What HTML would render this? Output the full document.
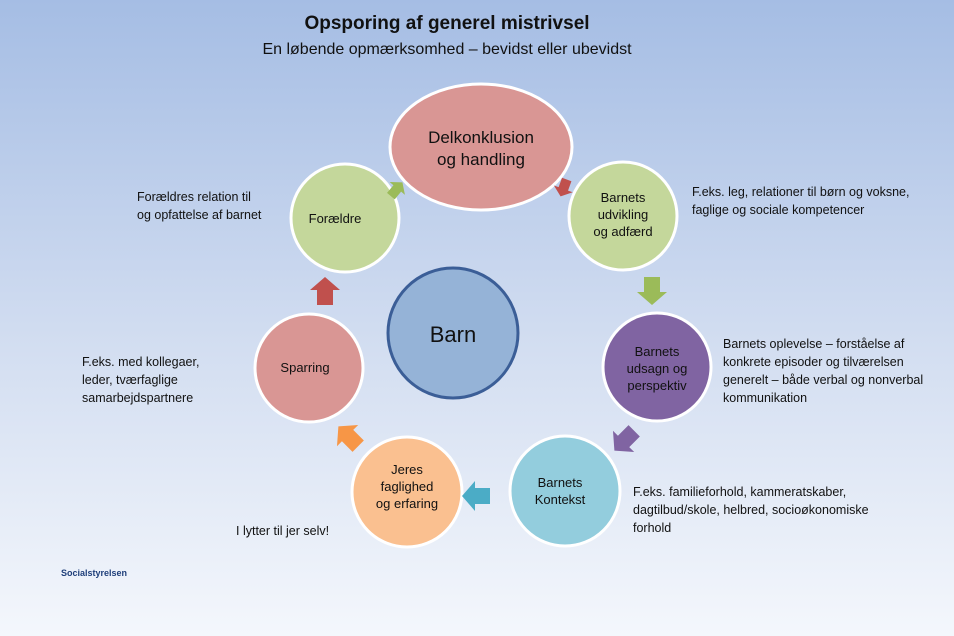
<!DOCTYPE html><html><head><meta charset="utf-8"><style>body{margin:0}svg{display:block}text{font-family:"Liberation Sans",sans-serif}</style></head><body>
<svg width="954" height="636" viewBox="0 0 954 636" xmlns="http://www.w3.org/2000/svg">
<defs><linearGradient id="bg" x1="0" y1="0" x2="0" y2="1"><stop offset="0" stop-color="#a5bde4"/><stop offset="0.55" stop-color="#d3def1"/><stop offset="1" stop-color="#f4f7fc"/></linearGradient></defs>
<rect width="954" height="636" fill="url(#bg)"/>
<text x="447" y="29" font-size="19" font-weight="bold" text-anchor="middle" fill="#111">Opsporing af generel mistrivsel</text>
<text x="447" y="54" font-size="16" text-anchor="middle" fill="#111">En løbende opmærksomhed – bevidst eller ubevidst</text>
<g stroke="#fff" stroke-width="3">
<ellipse cx="481" cy="147" rx="91" ry="63" fill="#d99694"/>
<circle cx="345" cy="218" r="54" fill="#c4d79b"/>
<circle cx="623" cy="216" r="54" fill="#c4d79b"/>
<circle cx="657" cy="367" r="54" fill="#8064a2"/>
<circle cx="565" cy="491" r="55" fill="#93cddd"/>
<circle cx="407" cy="492" r="55" fill="#fac090"/>
<circle cx="309" cy="368" r="54" fill="#d99694"/>
</g>
<circle cx="453" cy="333" r="65" fill="#95b3d7" stroke="#3b5e97" stroke-width="3"/>
<polygon points="-8,-5 2,-5 2,-10 10,0 2,10 2,5 -8,5" fill="#9bbb59" transform="translate(396,190) rotate(-50)"/>
<polygon points="-8,-5 2,-5 2,-10 10,0 2,10 2,5 -8,5" fill="#c0504d" transform="translate(564,187) rotate(110)"/>
<polygon points="-13,-8 2,-8 2,-15 15,0 2,15 2,8 -13,8" fill="#9bbb59" transform="translate(652,290) rotate(90)"/>
<polygon points="-13,-8 2,-8 2,-15 15,0 2,15 2,8 -13,8" fill="#8064a2" transform="translate(625,440) rotate(135)"/>
<polygon points="-13,-8 2,-8 2,-15 15,0 2,15 2,8 -13,8" fill="#4bacc6" transform="translate(477,496) rotate(180)"/>
<polygon points="-13,-8 2,-8 2,-15 15,0 2,15 2,8 -13,8" fill="#f79646" transform="translate(349,437) rotate(-135)"/>
<polygon points="-13,-8 2,-8 2,-15 15,0 2,15 2,8 -13,8" fill="#c0504d" transform="translate(325,292) rotate(-90)"/>
<g font-size="17" text-anchor="middle" fill="#111">
<text x="481" y="143">Delkonklusion</text><text x="481" y="165">og handling</text>
</g>
<text x="453" y="342" font-size="22" text-anchor="middle" fill="#111">Barn</text>
<g font-size="13" text-anchor="middle" fill="#111">
<text x="335" y="223">Forældre</text>
<text x="623" y="202">Barnets</text><text x="623" y="219">udvikling</text><text x="623" y="236">og adfærd</text>
<text x="657" y="356">Barnets</text><text x="657" y="373">udsagn og</text><text x="657" y="390">perspektiv</text>
<text x="560" y="487">Barnets</text><text x="560" y="504">Kontekst</text>
<text x="407" y="474">Jeres</text><text x="407" y="491">faglighed</text><text x="407" y="508">og erfaring</text>
<text x="305" y="372">Sparring</text>
</g>
<g font-size="12.5" fill="#111">
<text x="137" y="201">Forældres relation til</text><text x="137" y="219">og opfattelse af barnet</text>
<text x="692" y="196">F.eks. leg, relationer til børn og voksne,</text><text x="692" y="214">faglige og sociale kompetencer</text>
<text x="723" y="348">Barnets oplevelse – forståelse af</text><text x="723" y="366">konkrete episoder og tilværelsen</text><text x="723" y="384">generelt – både verbal og nonverbal</text><text x="723" y="402">kommunikation</text>
<text x="82" y="366">F.eks. med kollegaer,</text><text x="82" y="384">leder, tværfaglige</text><text x="82" y="402">samarbejdspartnere</text>
<text x="633" y="496">F.eks. familieforhold, kammeratskaber,</text><text x="633" y="514">dagtilbud/skole, helbred, socioøkonomiske</text><text x="633" y="532">forhold</text>
<text x="236" y="535">I lytter til jer selv!</text>
</g>
<text x="61" y="576" font-size="9" font-weight="bold" fill="#1f3f7a">Socialstyrelsen</text>
</svg></body></html>
